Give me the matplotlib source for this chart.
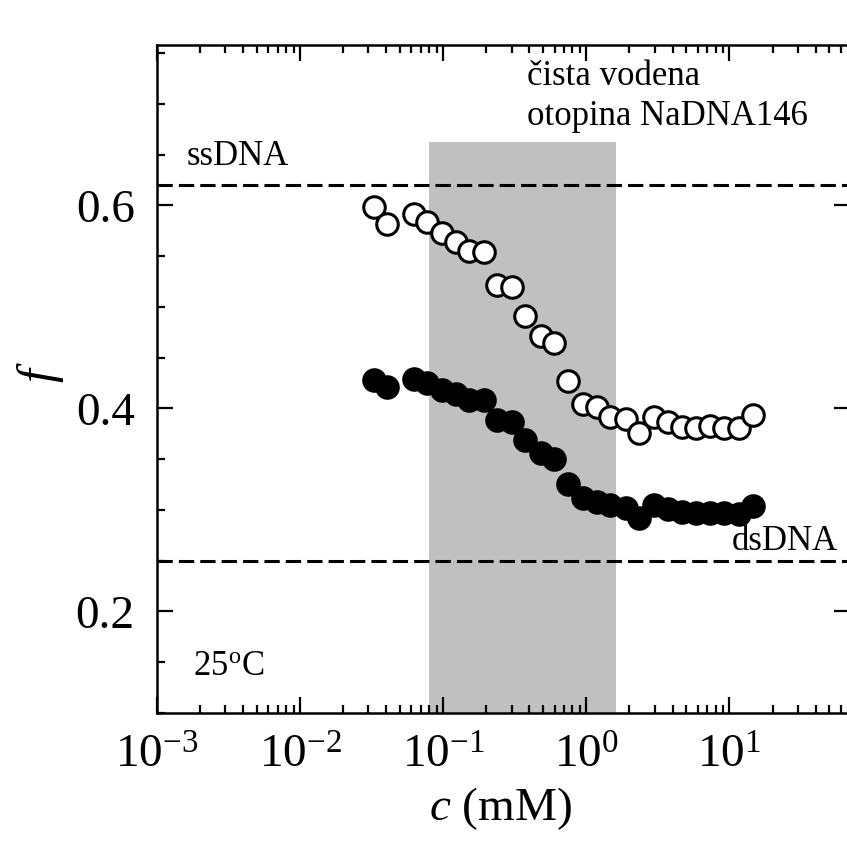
import matplotlib
matplotlib.use("Agg")
import matplotlib.pyplot as plt
import numpy as np
from matplotlib.ticker import LogLocator, MultipleLocator, LogFormatterSciNotation

plt.rcParams['font.family'] = ['Liberation Serif', 'DejaVu Serif']
plt.rcParams['mathtext.fontset'] = 'custom'
plt.rcParams['mathtext.rm'] = 'Liberation Serif'
plt.rcParams['mathtext.it'] = 'Liberation Serif:italic'

# concentration (mM), shared by both series
c = [0.0329, 0.0406, 0.0627, 0.0773, 0.0984, 0.123, 0.152, 0.194,
     0.239, 0.304, 0.374, 0.484, 0.597, 0.748, 0.953, 1.19, 1.47,
     1.90, 2.35, 2.99, 3.74, 4.69, 5.88, 7.36, 9.23, 11.6, 14.7]

# open circles
f_open = [0.598, 0.582, 0.592, 0.584, 0.573, 0.564, 0.555, 0.554,
          0.522, 0.520, 0.491, 0.471, 0.464, 0.427, 0.404, 0.401, 0.392,
          0.390, 0.376, 0.392, 0.387, 0.382, 0.381, 0.383, 0.381, 0.381, 0.394]

# filled circles
f_filled = [0.428, 0.421, 0.429, 0.425, 0.418, 0.414, 0.408, 0.408,
            0.389, 0.387, 0.369, 0.356, 0.350, 0.326, 0.312, 0.308, 0.305,
            0.302, 0.292, 0.305, 0.301, 0.298, 0.297, 0.297, 0.297, 0.296, 0.304]

ss_level = 0.62
ds_level = 0.25
shade_x = [0.08, 1.6]
shade_top = 0.662

fig = plt.figure(figsize=(8.47, 8.44), dpi=100)
ax = fig.add_axes([0.1854, 0.1552, 0.8186, 0.7915])

ax.fill_between(shade_x, 0, shade_top, color='#c0c0c0', lw=0, zorder=0)
ax.axhline(ss_level, color='k', lw=2.2, ls=(0, (5, 2)), zorder=1)
ax.axhline(ds_level, color='k', lw=2.2, ls=(0, (5, 2)), zorder=1)

ax.plot(c, f_open, 'o', ms=15.5, mfc='white', mec='k', mew=2.2, zorder=3)
ax.plot(c, f_filled, 'o', ms=15.5, mfc='k', mec='k', mew=2.2, zorder=3)

ax.set_xscale('log')
ax.set_xlim(1e-3, 70)
ax.set_ylim(0.1, 0.758)

ax.xaxis.set_major_locator(LogLocator(base=10, numticks=10))
ax.xaxis.set_minor_locator(LogLocator(base=10, subs=np.arange(2, 10), numticks=10))
ax.xaxis.set_major_formatter(LogFormatterSciNotation())
ax.yaxis.set_minor_locator(MultipleLocator(0.05))
ax.set_yticks([0.2, 0.4, 0.6])
ax.set_yticklabels(['0.2', '0.4', '0.6'])

ax.tick_params(which='major', direction='in', length=11.5, width=1.6,
               labelsize=34, top=True, right=True)
ax.tick_params(axis='x', which='major', pad=16)
ax.tick_params(axis='y', which='major', pad=16)
ax.tick_params(which='minor', direction='in', length=5.8, width=1.6,
               top=True, right=False)
for s in ax.spines.values():
    s.set_linewidth(1.8)

ax.set_xlabel('$c$ (mM)', fontsize=34)
ax.xaxis.set_label_coords(0.496, -0.108)
ax.set_ylabel('$f$', fontsize=36)
ax.yaxis.set_label_coords(-0.132, 0.51)

ax.text(0.00162, 0.640, 'ssDNA', fontsize=25)
ax.text(0.386, 0.719, 'čista vodena', fontsize=25)
ax.text(0.386, 0.679, 'otopina NaDNA146', fontsize=25)
ax.text(56.9, 0.2606, 'dsDNA', fontsize=25, ha='right')
ax.text(0.00179, 0.1374, '25$^\\mathrm{o}$C', fontsize=25)

fig.savefig('out.png', dpi=100)
